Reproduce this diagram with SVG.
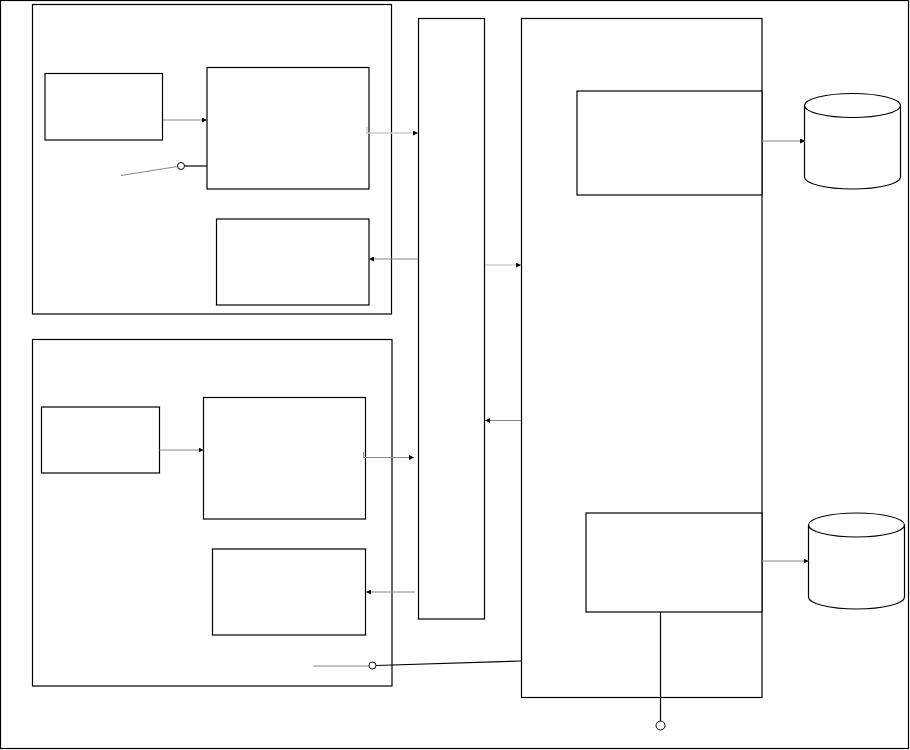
<svg xmlns="http://www.w3.org/2000/svg" width="910" height="750" viewBox="0 0 910 750">
<style>
.box{fill:#fff;stroke:#000;stroke-width:1.2}
.cont{fill:none;stroke:#000;stroke-width:1.2}
.c{fill:none;stroke:#888;stroke-width:1}
.cl{fill:none;stroke:#ccc;stroke-width:1.5}
.k{fill:none;stroke:#000;stroke-width:1.2}
.lol{fill:#fff;stroke:#000;stroke-width:1}
</style>
<defs>
<marker id="ah" viewBox="0 0 6 6" refX="6" refY="3" markerWidth="5" markerHeight="5" orient="auto" markerUnits="userSpaceOnUse">
<path d="M0,0 L6,3 L0,6 z" fill="#000"/>
</marker>
</defs>
<rect x="0.5" y="0.5" width="908" height="748" fill="#fff" stroke="#000" stroke-width="1.2"/>
<g id="containerTop"><rect class="cont" x="32.5" y="4.5" width="359" height="309.5"/></g>
<g id="containerBottom"><rect class="cont" x="32.5" y="339.5" width="359.5" height="346.5"/></g>
<g id="a1"><rect class="box" x="45" y="73.5" width="117.5" height="66.5"/></g>
<g id="a2"><rect class="box" x="207" y="67.5" width="162" height="121.5"/></g>
<g id="a3"><rect class="box" x="216.5" y="219" width="152.5" height="86"/></g>
<g id="b1"><rect class="box" x="41.5" y="407" width="118" height="66"/></g>
<g id="b2"><rect class="box" x="203.5" y="397.5" width="162" height="121.5"/></g>
<g id="b3"><rect class="box" x="212.5" y="549" width="153" height="86"/></g>
<g id="bus"><rect class="box" x="418.5" y="18.5" width="66" height="600.5"/></g>
<g id="main"><rect class="box" x="521.5" y="18.5" width="240.5" height="679"/></g>
<g id="m1"><rect class="box" x="577" y="91" width="185" height="104"/></g>
<g id="m2"><rect class="box" x="586" y="513" width="176" height="99"/></g>
<g id="db1">
<path d="M804.5,105.5 L804.5,177 A48,12 0 0 0 900.5,177 L900.5,105.5" fill="#fff" stroke="#000" stroke-width="1.2"/>
<ellipse cx="852.5" cy="105.5" rx="48" ry="12" fill="#fff" stroke="#000" stroke-width="1.2"/>
</g>
<g id="db2">
<path d="M808.5,525 L808.5,597 A48,12 0 0 0 904.5,597 L904.5,525" fill="#fff" stroke="#000" stroke-width="1.2"/>
<ellipse cx="856.5" cy="525" rx="48" ry="12" fill="#fff" stroke="#000" stroke-width="1.2"/>
</g>
<g id="connectors">
<path class="c" d="M163,120 L207,120" marker-end="url(#ah)"/>
<path class="k" d="M184.5,166 L207,166"/>
<path class="c" d="M121,175.5 L177.5,166.5"/>
<circle class="lol" cx="181" cy="166" r="3.5"/>
<path class="cl" d="M367,127 L367,133 L418,133" marker-end="url(#ah)"/>
<path class="c" d="M418,259 L369,259" marker-end="url(#ah)"/>
<path class="cl" d="M485,265 L521,265" marker-end="url(#ah)"/>
<path class="c" d="M521,420.5 L485,420.5" marker-end="url(#ah)"/>
<path class="c" d="M762,141 L805,141" marker-end="url(#ah)"/>
<path class="c" d="M159.5,450 L203.5,450" marker-end="url(#ah)"/>
<path class="c" d="M363.5,452 L363.5,457.5 L414,457.5" marker-end="url(#ah)"/>
<path class="c" d="M415,592 L366,592" marker-end="url(#ah)"/>
<path class="c" d="M313,666 L369,666"/>
<path class="k" d="M376,665.5 L521,661"/>
<circle class="lol" cx="372.5" cy="665.5" r="3.5"/>
<path class="c" d="M762,561 L808.5,561" marker-end="url(#ah)"/>
<path class="k" d="M660.5,612 L660.5,721"/>
<circle class="lol" cx="660.5" cy="725.5" r="4.5"/>
</g>
</svg>
